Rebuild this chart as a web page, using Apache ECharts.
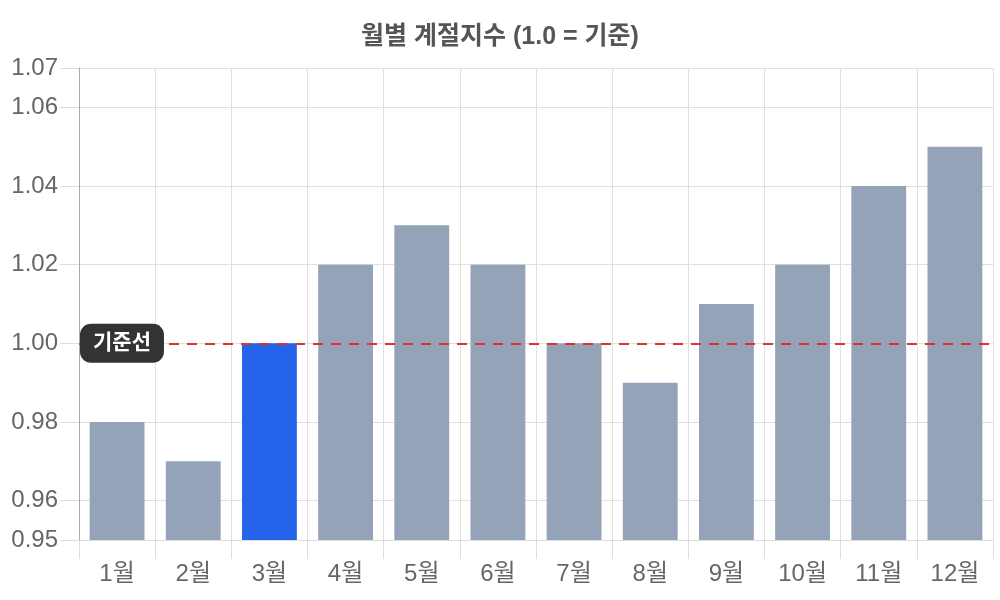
<!DOCTYPE html>
<html>
<head>
<meta charset="utf-8">
<script src="https://cdn.jsdelivr.net/npm/echarts@6/dist/echarts.min.js"></script>
<style>
  html, body { margin: 0; padding: 0; background: #fff; }
  #chart { width: 1000px; height: 600px; }
</style>
</head>
<body>
<div id="chart"></div>
<script>
  // 월별 계절지수 데이터
  var months = ['1월', '2월', '3월', '4월', '5월', '6월', '7월', '8월', '9월', '10월', '11월', '12월'];
  var seasonalIndex = [0.98, 0.97, 1.00, 1.02, 1.03, 1.02, 1.00, 0.99, 1.01, 1.02, 1.04, 1.05];
  var highlightMonth = '3월';
  var baseline = 1.0;

  var font = '"Liberation Sans", "Noto Sans CJK KR", sans-serif';
  var chart = echarts.init(document.getElementById('chart'));

  var option = {
    animation: false,
    title: {
      text: '월별 계절지수 (1.0 = 기준)',
      left: 'center',
      top: 20,
      textStyle: { fontFamily: font, fontSize: 25, fontWeight: 'bold', color: '#555' }
    },
    grid: { left: 79, right: 7, top: 68, bottom: 60 },
    xAxis: {
      type: 'category',
      data: months,
      axisLine: { show: true, lineStyle: { color: '#ddd' } },
      axisTick: { show: true, length: 19, lineStyle: { color: '#ddd' } },
      splitLine: { show: true, lineStyle: { color: '#e0e0e0' } },
      axisLabel: { fontFamily: font, fontSize: 24, color: '#666', margin: 22 }
    },
    yAxis: {
      type: 'value',
      min: 0.95,
      max: 1.07,
      axisLine: { show: true, lineStyle: { color: '#aaa' } },
      axisTick: { show: true, length: 19, lineStyle: { color: '#ddd' } },
      splitLine: { show: true, lineStyle: { color: '#e0e0e0' } },
      axisLabel: {
        fontFamily: font, fontSize: 24, color: '#666', margin: 21,
        formatter: function (v) { return v.toFixed(2); }
      }
    },
    series: [{
      type: 'bar',
      barCategoryGap: '28%',
      data: seasonalIndex.map(function (v, i) {
        return {
          value: v,
          itemStyle: { color: months[i] === highlightMonth ? '#2563EB' : '#94A3B8' }
        };
      }),
      markLine: {
        silent: true,
        symbol: 'none',
        lineStyle: { color: '#E03131', width: 2, type: [10, 8] },
        label: {
          show: true,
          position: 'insideStart',
          distance: 1,
          formatter: '기준선',
          fontFamily: font,
          fontSize: 21,
          fontWeight: 'bold',
          color: '#fff',
          backgroundColor: '#333',
          borderRadius: 11,
          padding: [9, 13]
        },
        data: [{ yAxis: baseline }]
      }
    }]
  };

  chart.setOption(option);
</script>
</body>
</html>
